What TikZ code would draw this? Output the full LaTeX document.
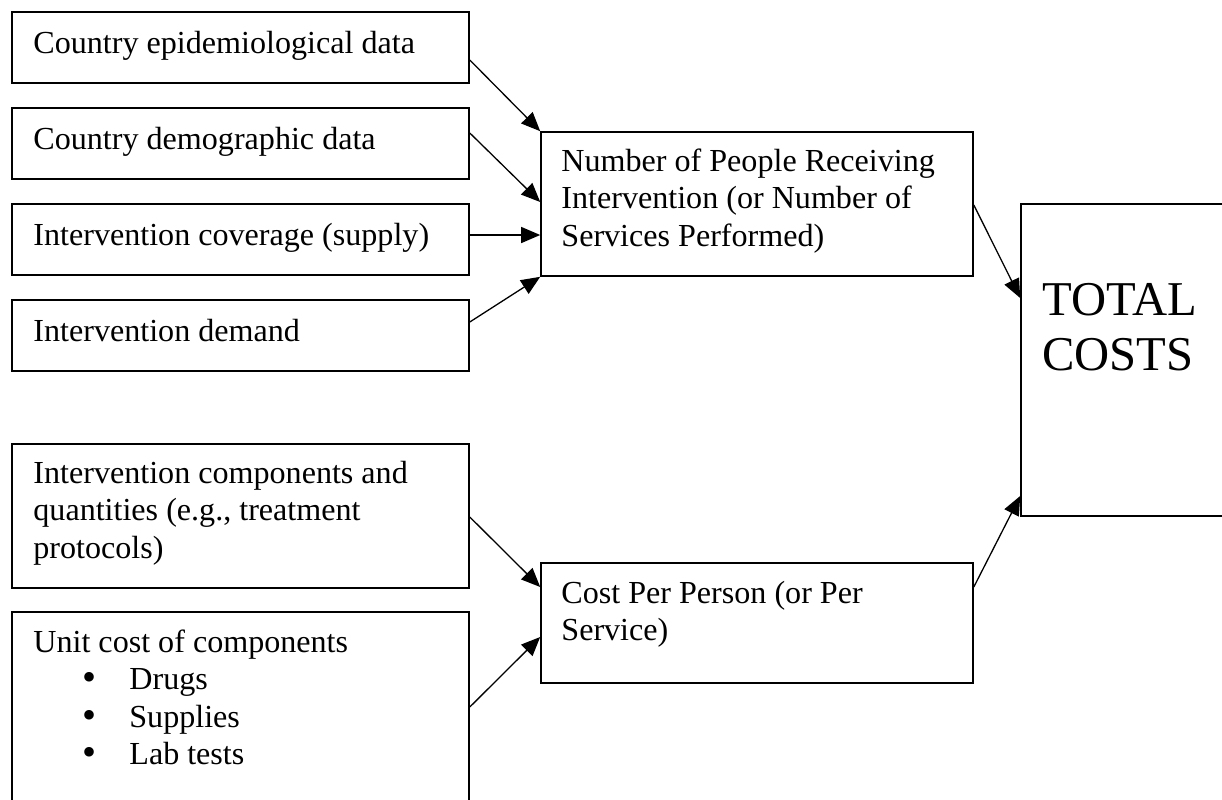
\documentclass[tikz,border=0pt]{standalone}
\usepackage{fontspec}
\setmainfont{Liberation Serif}
\usetikzlibrary{arrows.meta,calc}

% body text and the large label
\newcommand{\bodysize}{\fontsize{16.05pt}{18.75pt}\selectfont}
\newcommand{\bigsize}{\fontsize{24.3pt}{27.5pt}\selectfont}
% stacked lines whose baseline is the first line
\newcommand{\stack}[1]{\begin{tabular}[t]{@{}l@{}}#1\end{tabular}}
% bullet item inside the unit-cost box
\newcommand{\bitem}[1]{\hspace*{24.5pt}\makebox[23.5pt][l]{\raisebox{-0.5pt}{\fontsize{20pt}{20pt}\selectfont •}}#1}

\begin{document}
\begin{tikzpicture}[x=0.5pt,y=-0.5pt,
  box/.style={draw=black,line width=0.8pt,rectangle,inner sep=0pt,
              minimum width=228.5pt},
  txt/.style={anchor=base west,inner sep=0pt,font=\bodysize},
  conn/.style={draw=black,line width=0.65pt,
               -{Triangle[length=9.5pt,width=8pt]}}]

\clip (0,0) rectangle (1222,799);
\fill[white] (0,0) rectangle (1222,799);

% input boxes on the left
\node[box,minimum height=35.5pt] (b1) at (240.5,47.5) {};
\node[box,minimum height=35.5pt] (b2) at (240.5,143.5) {};
\node[box,minimum height=35.5pt] (b3) at (240.5,239.5) {};
\node[box,minimum height=35.5pt] (b4) at (240.5,335.5) {};
\node[box,minimum height=72pt]   (b5) at (240.5,516) {};
\node[box,minimum height=109pt]  (b6) at (240.5,721) {};

% intermediate boxes
\node[box,minimum width=216pt,minimum height=72pt] (num)  at (757,204) {};
\node[box,minimum width=216pt,minimum height=60pt] (cost) at (757,623) {};

% result box
\node[box,minimum width=109.5pt,minimum height=156pt] (total) at (1130.5,360) {};

% labels
\node[txt] (t1) at (33,53)  {Country epidemiological data};
\node[txt] (t2) at (33,149) {Country demographic data};
\node[txt] (t3) at (33,245) {Intervention coverage (supply)};
\node[txt] (t4) at (33,341) {Intervention demand};
\node[txt] (t5) at (33,483) {\stack{Intervention components and\\
  quantities (e.g., treatment\\ protocols)}};
\node[txt] (t6) at (33,652) {\stack{Unit cost of components\\
  \bitem{Drugs}\\ \bitem{Supplies}\\ \bitem{Lab tests}}};
\node[txt] (tn) at (561,171) {\stack{Number of People Receiving\\
  Intervention (or Number of\\ Services Performed)}};
\node[txt] (tc) at (561,603) {\stack{Cost Per Person (or Per\\ Service)}};
\node[txt,font=\bigsize] (tt) at (1042,315) {\stack{TOTAL\\ COSTS}};

% connectors
\draw[conn] ($(b1.east)+(0,12.5)$)  -- (num.north west);
\draw[conn] ($(b2.east)+(0,-10.5)$) -- ($(num.west)+(0,-2)$);
\draw[conn] ($(b3.east)+(0,-4.5)$)  -- ($(num.west)+(0,31)$);
\draw[conn] ($(b4.east)+(0,-13.5)$) -- (num.south west);
\draw[conn] ($(num.east)+(0,1)$)    -- ($(total.west)+(0,-62)$);
\draw[conn] ($(cost.east)+(0,-36)$) -- ($(total.west)+(0,136)$);
\draw[conn] ($(b5.east)+(0,1)$)     -- ($(cost.west)+(0,-36)$);
\draw[conn] ($(b6.east)+(0,-14)$)   -- ($(cost.west)+(0,14)$);
\end{tikzpicture}
\end{document}
